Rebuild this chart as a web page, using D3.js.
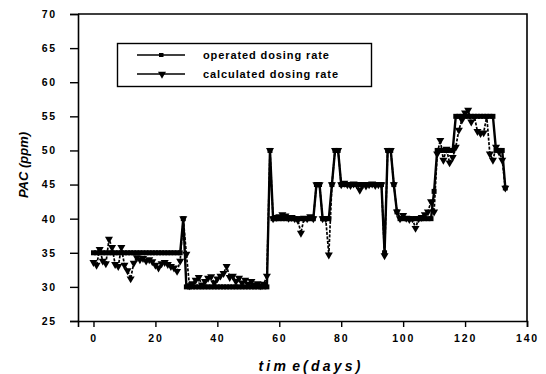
<!DOCTYPE html>
<html><head><meta charset="utf-8">
<script src="https://cdn.jsdelivr.net/npm/d3@7"></script>
<style>
body{margin:0;background:#fff;}
text{font-family:"Liberation Sans",Arial,sans-serif;}
</style></head>
<body><svg id="c" width="546" height="374"></svg>
<script>
const days = [0,1,2,3,4,5,6,7,8,9,10,11,12,13,14,15,16,17,18,19,20,21,22,23,24,25,26,27,28,29,30,
31,32,33,34,35,36,37,38,39,40,41,42,43,44,45,46,47,48,49,50,51,52,53,54,55,56,57,58,59,60,
61,62,63,64,65,66,67,68,69,70,71,72,73,74,75,76,77,78,79,80,81,82,83,84,85,86,87,88,89,90,
91,92,93,94,95,96,97,98,99,100,101,102,103,104,105,106,107,108,109,110,111,112,113,114,115,
116,117,118,119,120,121,122,123,124,125,126,127,128,129,130,131,132,133];
const operated = [35,35,35,35,35,35,35,35,35,35,35,35,35,35,35,35,35,35,35,35,35,35,35,35,35,35,35,35,35,
40,30,
30,30,30,30,30,30,30,30,30,30,30,30,30,30,30,30,30,30,30,30,30,30,30,30,30,30,
50,
40,40,40,40,40,40,40,40,40,40,40,40,40,40,
45,45,40,40,40,45,50,50,
45,45,45,45,45,45,45,45,45,45,45,45,45,45,
35,50,50,45,41,
40,40,40,40,40,40,40,40,40,40,40,44,
50,50,50,50,50,50,
55,55,55,55,55,55,55,55,55,55,55,55,55,
50,50,50,44.5];
const calculated = [33.6,33.2,35.5,33.8,33.4,37.0,35.8,33.3,33.0,35.8,33.2,32.4,31.2,33.5,34.3,34.0,34.2,33.8,34.0,33.7,33.2,32.8,33.4,33.6,33.3,33.0,32.8,32.3,33.8,40.0,34.8,
30.2,30.5,31.0,31.4,30.3,30.8,31.3,31.5,30.6,31.2,31.6,32.0,33.0,31.4,31.6,30.8,31.3,30.6,31.0,30.4,30.8,30.3,30.5,30.2,30.4,31.6,
50,
40.0,40.2,40.3,40.6,40.4,40.1,40.2,40.0,39.8,37.9,40.1,40.0,40.3,40.0,
45,45,40,40,34.7,45,50,50,
45,45.2,45.0,44.9,45.1,45.0,44.2,45.0,44.8,45.0,45.1,44.9,45.0,45.0,
34.6,50,50,45,41,
40.0,40.5,40.1,39.9,40.0,38.6,40.0,40.2,40.6,41.0,42.5,41.0,
49.5,51.5,48.6,50.2,48.2,49.0,
50.5,53.0,54.5,55.5,55.9,54.2,55.0,52.8,52.5,52.6,55.0,49.5,48.6,50.5,49.8,48.6,44.5];
const xTicks = [0,20,40,60,80,100,120,140];
const yTicks = [25,30,35,40,45,50,55,60,65,70];
const seriesNames = ["operated dosing rate","calculated dosing rate"];

const svg = d3.select("#c");
const x = d3.scaleLinear().domain([-5,140]).range([78,527]);
const y = d3.scaleLinear().domain([25,70]).range([321,14]);

// frame top & right
svg.append("path")
  .attr("d", `M${x(-5)},${y(70)}H${x(140)}V${y(25)}`)
  .attr("fill","none").attr("stroke","#000").attr("stroke-width",1.6);

const xa = svg.append("g").attr("transform",`translate(0,${y(25)})`)
  .call(d3.axisBottom(x).tickValues(xTicks).tickSize(6).tickPadding(8).tickFormat(d3.format("d")));
const ya = svg.append("g").attr("transform",`translate(${x(-5)},0)`)
  .call(d3.axisLeft(y).tickValues(yTicks).tickSize(8).tickPadding(13).tickFormat(d3.format("d")));
[xa,ya].forEach(a=>{
  a.select(".domain").attr("stroke","#000").attr("stroke-width",1.6);
  a.selectAll(".tick line").attr("stroke","#000").attr("stroke-width",1.4);
  a.selectAll(".tick text").attr("fill","#000").style("font-size","10.5px")
   .style("font-weight","bold").style("letter-spacing","1.8px");
});

const pts = days.map((d,i)=>({d, op:operated[i], ca:calculated[i]}));

// calculated dotted line
svg.append("path").datum(pts)
  .attr("d", d3.line().x(p=>x(p.d)).y(p=>y(p.ca)))
  .attr("fill","none").attr("stroke","#000").attr("stroke-width",1.7)
  .attr("stroke-dasharray","3,1.5");
// operated solid line
svg.append("path").datum(pts)
  .attr("d", d3.line().x(p=>x(p.d)).y(p=>y(p.op)))
  .attr("fill","none").attr("stroke","#000").attr("stroke-width",2.4);

const tri = d3.symbol().type(d3.symbolTriangle).size(28);
svg.append("g").selectAll("path").data(pts).join("path")
  .attr("d", tri).attr("transform", p=>`translate(${x(p.d)},${y(p.ca)}) rotate(180)`)
  .attr("fill","#000");
svg.append("g").selectAll("rect").data(pts).join("rect")
  .attr("x", p=>x(p.d)-2.5).attr("y", p=>y(p.op)-2.5).attr("width",5).attr("height",5)
  .attr("fill","#000");

// legend
const lg = svg.append("g");
lg.append("rect").attr("x",117.5).attr("y",43.5).attr("width",254).attr("height",43)
  .attr("fill","#fff").attr("stroke","#000").attr("stroke-width",1.4);
seriesNames.forEach((n,i)=>{
  const yy = 55 + i*19;
  lg.append("line").attr("x1",137).attr("x2",185).attr("y1",yy).attr("y2",yy)
    .attr("stroke","#000").attr("stroke-width",1.6);
  if(i===0){
    lg.append("rect").attr("x",159).attr("y",yy-2).attr("width",4.5).attr("height",4).attr("fill","#000");
  } else {
    lg.append("path").attr("d",tri).attr("transform",`translate(162,${yy}) rotate(180)`).attr("fill","#000");
  }
  lg.append("text").attr("x",203).attr("y",yy+4).text(n)
    .style("font-size","11px").style("font-weight","bold").style("letter-spacing","0.9px");
});

// axis titles
svg.append("text").attr("transform","translate(28,165) rotate(-90)")
  .attr("text-anchor","middle").text("PAC (ppm)")
  .style("font-size","13px").style("font-weight","bold").style("font-style","italic");
svg.append("text").attr("x",311).attr("y",371).attr("text-anchor","middle")
  .text("tim e(days)")
  .style("font-size","14px").style("font-weight","bold").style("font-style","italic")
  .style("letter-spacing","3.2px").style("word-spacing","-4px");
</script></body></html>
